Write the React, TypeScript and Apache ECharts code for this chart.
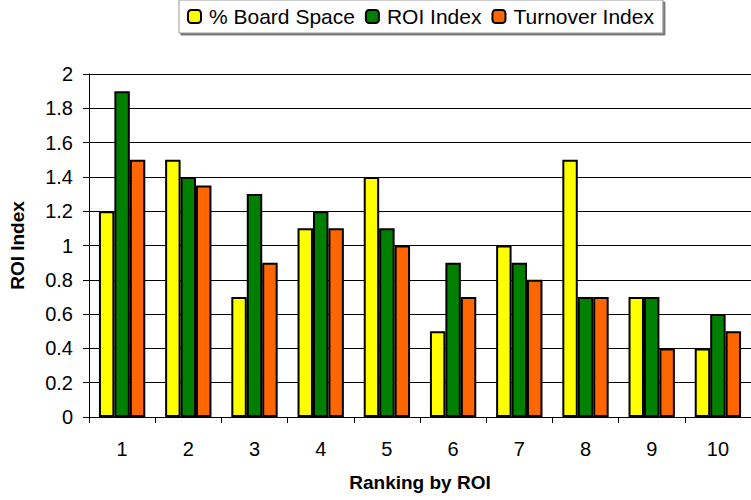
import React, { useEffect, useRef } from "react";
import * as echarts from "echarts";

const categories = ["1", "2", "3", "4", "5", "6", "7", "8", "9", "10"];
const boardSpace = [1.2, 1.5, 0.7, 1.1, 1.4, 0.5, 1.0, 1.5, 0.7, 0.4];
const roiIndex = [1.9, 1.4, 1.3, 1.2, 1.1, 0.9, 0.9, 0.7, 0.7, 0.6];
const turnoverIndex = [1.5, 1.35, 0.9, 1.1, 1.0, 0.7, 0.8, 0.7, 0.4, 0.5];

const FONT = "'Liberation Sans', Arial, sans-serif";

export default function App() {
  const ref = useRef<HTMLDivElement>(null);
  useEffect(() => {
    if (!ref.current) return;
    const chart = echarts.init(ref.current, undefined, { renderer: "svg" });
    const barStyle = (color: string) => ({
      color,
      borderColor: "#000",
      borderWidth: 2,
    });
    chart.setOption({
      animation: false,
      textStyle: { fontFamily: FONT },
      legend: {
        left: 179,
        top: 0,
        padding: [6, 9, 6, 8],
        itemWidth: 13,
        itemHeight: 13,
        itemGap: 10,
        borderColor: "#999",
        borderWidth: 1,
        backgroundColor: "#fff",
        shadowColor: "#777",
        shadowOffsetX: 2,
        shadowOffsetY: 2,
        shadowBlur: 0,
        textStyle: { fontFamily: FONT, fontSize: 21, color: "#000", padding: [0, 0, 0, 3] },
        data: ["% Board Space", "ROI Index", "Turnover Index"],
      },
      grid: { left: 89, right: -5, top: 74, bottom: 83 },
      xAxis: {
        type: "category",
        data: categories,
        name: "Ranking by ROI",
        nameLocation: "middle",
        nameGap: 56,
        nameTextStyle: { fontFamily: FONT, fontSize: 19, fontWeight: "bold", color: "#000" },
        axisLine: { lineStyle: { color: "#000", width: 1 } },
        axisTick: { show: true, length: 6, interval: 0, lineStyle: { color: "#000" } },
        axisLabel: { fontFamily: FONT, fontSize: 20, color: "#000", margin: 22 },
      },
      yAxis: {
        type: "value",
        min: 0,
        max: 2,
        interval: 0.2,
        name: "ROI Index",
        nameLocation: "middle",
        nameGap: 62,
        nameTextStyle: { fontFamily: FONT, fontSize: 19, fontWeight: "bold", color: "#000" },
        axisLine: { show: true, lineStyle: { color: "#000", width: 1 } },
        axisTick: { show: true, length: 6, lineStyle: { color: "#000" } },
        axisLabel: { fontFamily: FONT, fontSize: 20, color: "#000", margin: 16 },
        splitLine: { show: true, lineStyle: { color: "#000", width: 1 } },
      },
      series: [
        { name: "% Board Space", type: "bar", data: boardSpace, itemStyle: barStyle("#FFFF00"), barGap: "0%", barCategoryGap: "30%" },
        { name: "ROI Index", type: "bar", data: roiIndex, itemStyle: barStyle("#008000"), barGap: "0%", barCategoryGap: "30%" },
        { name: "Turnover Index", type: "bar", data: turnoverIndex, itemStyle: barStyle("#FF6600"), barGap: "0%", barCategoryGap: "30%" },
      ],
    });
    return () => chart.dispose();
  }, []);
  return <div ref={ref} style={{ width: 751, height: 500, position: "absolute", left: 0, top: 0 }} />;
}
